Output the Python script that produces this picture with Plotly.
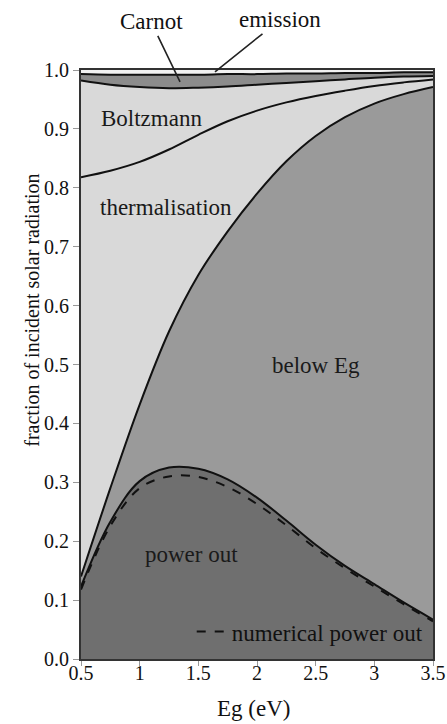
import plotly.graph_objects as go

eg = [0.5, 0.75, 1.0, 1.25, 1.5, 1.75, 2.0, 2.25, 2.5, 2.75, 3.0, 3.25, 3.5]

power_out = [0.123, 0.233, 0.302, 0.325, 0.323, 0.305, 0.274, 0.235, 0.194, 0.158, 0.127, 0.096, 0.067]
numerical_power_out = [0.118, 0.226, 0.290, 0.310, 0.309, 0.292, 0.263, 0.227, 0.188, 0.154, 0.123, 0.093, 0.064]
below_eg_top = [0.140, 0.290, 0.432, 0.556, 0.652, 0.726, 0.790, 0.845, 0.888, 0.920, 0.943, 0.959, 0.971]
thermal_top = [0.818, 0.829, 0.844, 0.865, 0.890, 0.913, 0.931, 0.945, 0.956, 0.965, 0.973, 0.979, 0.984]
boltzmann_top = [0.982, 0.975, 0.971, 0.969, 0.970, 0.972, 0.975, 0.978, 0.981, 0.984, 0.987, 0.989, 0.990]
carnot_top = [0.993, 0.992, 0.992, 0.992, 0.992, 0.993, 0.993, 0.994, 0.994, 0.995, 0.995, 0.996, 0.996]

xticks = [0.5, 1, 1.5, 2, 2.5, 3, 3.5]
xticklabels = ["0.5", "1", "1.5", "2", "2.5", "3", "3.5"]

C_POWER = "#6f6f6f"
C_BELOW = "#9a9a9a"
C_LIGHT = "#d9d9d9"
C_CARNOT = "#8c8c8c"
C_EMISSION = "#f2f2f2"
FONT = "Liberation Serif"
INK = "#111111"

fig = go.Figure()
line = dict(color=INK, width=2, shape="spline", smoothing=1.0)

fig.add_trace(go.Scatter(x=eg, y=power_out, mode="lines", line=line, fill="tozeroy",
                         fillcolor=C_POWER, showlegend=False, hoverinfo="skip"))
fig.add_trace(go.Scatter(x=eg, y=below_eg_top, mode="lines", line=line, fill="tonexty",
                         fillcolor=C_BELOW, showlegend=False, hoverinfo="skip"))
fig.add_trace(go.Scatter(x=eg, y=thermal_top, mode="lines", line=line, fill="tonexty",
                         fillcolor=C_LIGHT, showlegend=False, hoverinfo="skip"))
fig.add_trace(go.Scatter(x=eg, y=boltzmann_top, mode="lines", line=line, fill="tonexty",
                         fillcolor=C_LIGHT, showlegend=False, hoverinfo="skip"))
fig.add_trace(go.Scatter(x=eg, y=carnot_top, mode="lines", line=line, fill="tonexty",
                         fillcolor=C_CARNOT, showlegend=False, hoverinfo="skip"))
fig.add_trace(go.Scatter(x=eg, y=numerical_power_out, mode="lines",
                         line=dict(color=INK, width=2, dash="dash", shape="spline", smoothing=1.0),
                         name="numerical power out", showlegend=True, hoverinfo="skip"))

labels = [
    ("Boltzmann", 1.105, 0.917),
    ("thermalisation", 1.225, 0.767),
    ("below Eg", 2.50, 0.499),
    ("power out", 1.44, 0.177),
]
for text, x, y in labels:
    fig.add_annotation(x=x, y=y, text=text, showarrow=False,
                       font=dict(family=FONT, size=23, color="#1a1a1a"))

fig.add_annotation(x=1.344, y=0.980, text="Carnot", showarrow=True, arrowhead=0,
                   arrowwidth=1.6, arrowcolor="#222222", ax=-29, ay=-60,
                   font=dict(family=FONT, size=23, color=INK))
fig.add_annotation(x=1.642, y=0.997, text="emission", showarrow=True, arrowhead=0,
                   arrowwidth=1.6, arrowcolor="#222222", ax=65, ay=-52,
                   font=dict(family=FONT, size=23, color=INK))

# axis titles placed as annotations (the y title sits above the plot centre in the reference)
fig.add_annotation(xref="paper", yref="paper", x=-0.14, y=0.5925, text="fraction of incident solar radiation",
                   textangle=-90, showarrow=False, xanchor="center", yanchor="middle",
                   font=dict(family=FONT, size=20, color=INK))
fig.add_annotation(xref="paper", yref="paper", x=0.489, y=-0.0832, text="Eg (eV)",
                   showarrow=False, xanchor="center", yanchor="middle",
                   font=dict(family=FONT, size=23, color=INK))

fig.update_layout(
    width=447, height=724,
    margin=dict(l=81, r=14, t=70, b=65),
    paper_bgcolor="white",
    plot_bgcolor=C_EMISSION,
    font=dict(family=FONT, size=20, color=INK),
    legend=dict(x=0.985, y=0.01, xanchor="right", yanchor="bottom",
                bgcolor="rgba(0,0,0,0)", font=dict(family=FONT, size=23, color=INK)),
    xaxis=dict(range=[0.5, 3.5], tickvals=xticks, ticktext=xticklabels, automargin=False,
               showline=True, mirror=True, linecolor="#333333", linewidth=2,
               ticks="outside", ticklen=5, tickcolor="#999999", showgrid=False, zeroline=False,
               ticklabelstandoff=-10,
               tickfont=dict(family=FONT, size=20)),
    yaxis=dict(range=[0, 1.0], dtick=0.1, tickformat=".1f", automargin=False,
               showline=True, mirror=True, linecolor="#333333", linewidth=2,
               ticks="outside", ticklen=6, tickcolor="#999999", showgrid=False, zeroline=False,
               tickfont=dict(family=FONT, size=20)),
)

fig.write_html("out.html", post_script="document.body.style.margin='0px';",
               config={"displayModeBar": False})
